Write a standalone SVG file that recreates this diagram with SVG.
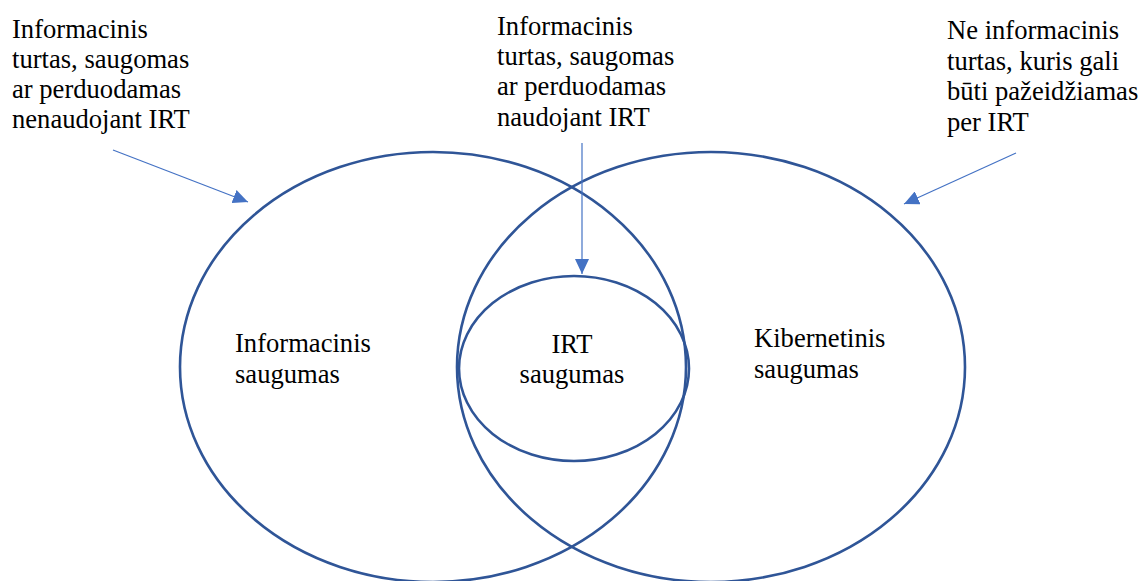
<svg xmlns="http://www.w3.org/2000/svg" width="1141" height="581" viewBox="0 0 1141 581">
<style>
.ell{fill:none;stroke:#2F5597;stroke-width:2.6}
.arr{fill:none;stroke:#4472C4;stroke-width:1.2}
text{font-family:"Liberation Serif","Times New Roman",serif;font-size:26.6px;fill:#000}
.c{text-anchor:middle}
</style>
<defs>
<marker id="ah" viewBox="0 0 15 14" refX="15" refY="7" markerWidth="15" markerHeight="14" markerUnits="userSpaceOnUse" orient="auto">
<path d="M0,0 L15,7 L0,14 z" fill="#4472C4"/>
</marker>
</defs>
<rect width="1141" height="581" fill="#fff"/>
<g id="info-security">
<ellipse class="ell" cx="433" cy="367" rx="253" ry="215"/>
<text x="235" y="352">Informacinis</text>
<text x="235" y="383">saugumas</text>
</g>
<g id="cyber-security">
<ellipse class="ell" cx="711" cy="367" rx="254" ry="215"/>
<text x="754" y="347">Kibernetinis</text>
<text x="754" y="378">saugumas</text>
</g>
<g id="irt-security">
<ellipse class="ell" cx="574" cy="368.5" rx="115" ry="92.5"/>
<text class="c" x="572" y="353">IRT</text>
<text class="c" x="572" y="383">saugumas</text>
</g>
<g id="label-left">
<text x="12" y="38">Informacinis</text>
<text x="12" y="68">turtas, saugomas</text>
<text x="12" y="98">ar perduodamas</text>
<text x="12" y="128">nenaudojant IRT</text>
</g>
<g id="label-middle">
<text x="497" y="35">Informacinis</text>
<text x="497" y="65">turtas, saugomas</text>
<text x="497" y="95">ar perduodamas</text>
<text x="497" y="126">naudojant IRT</text>
</g>
<g id="label-right">
<text x="947" y="39">Ne informacinis</text>
<text x="947" y="70">turtas, kuris gali</text>
<text x="947" y="100">būti pažeidžiamas</text>
<text x="947" y="131">per IRT</text>
</g>
<g id="connectors">
<line class="arr" x1="113" y1="150" x2="248" y2="202" marker-end="url(#ah)"/>
<line class="arr" x1="582" y1="143" x2="582" y2="274" marker-end="url(#ah)"/>
<line class="arr" x1="1016" y1="153" x2="904" y2="204" marker-end="url(#ah)"/>
</g>
</svg>
